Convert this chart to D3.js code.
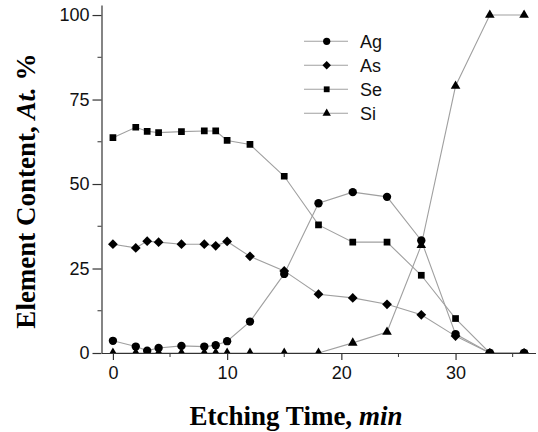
<!DOCTYPE html>
<html>
<head>
<meta charset="utf-8">
<script src="https://cdn.jsdelivr.net/npm/d3@7"></script>
<style>
  body { margin: 0; background: #fff; }
  svg { display: block; }
</style>
</head>
<body>
<svg id="chart" width="538" height="432"></svg>
<script>
// etching time, min
var times = [0, 2, 3, 4, 6, 8, 9, 10, 12, 15, 18, 21, 24, 27, 30, 33, 36];
var agValues = [3.6, 1.9, 0.7, 1.5, 2.1, 1.9, 2.3, 3.5, 9.3, 23.4, 44.3, 47.6, 46.2, 33.3, 5.6, 0, 0];
var asValues = [32.2, 31.1, 33.1, 32.8, 32.2, 32.2, 31.7, 33.0, 28.6, 24.3, 17.4, 16.3, 14.4, 11.3, 5.0, 0, 0];
var seValues = [63.7, 66.8, 65.6, 65.2, 65.5, 65.7, 65.7, 62.9, 61.7, 52.3, 37.9, 32.8, 32.8, 23.0, 10.2, 0, 0];
var siValues = [0, 0, 0, 0, 0, 0, 0, 0, 0, 0, 0, 3.0, 6.2, 31.9, 79.0, 100, 100];
var seriesNames = ["Ag", "As", "Se", "Si"];
var xTicks = [0, 10, 20, 30];
var xMinor = [5, 15, 25, 35];
var yTicks = [0, 25, 50, 75, 100];
var yMinor = [12.5, 37.5, 62.5, 87.5];

var svg = d3.select("#chart");

var x = d3.scaleLinear().domain([-1, 37]).range([101.5, 535.5]);
var y = d3.scaleLinear().domain([0, 103]).range([353, 4.9]);

// diamond = square turned 45deg
var series = [
  {name: "Ag", values: agValues, sym: d3.symbolCircle, size: 55, rot: 0},
  {name: "As", values: asValues, sym: d3.symbolSquare, size: 48, rot: 45},
  {name: "Se", values: seValues, sym: d3.symbolSquare, size: 45, rot: 0},
  {name: "Si", values: siValues, sym: d3.symbolTriangle, size: 40, rot: 0}
];

svg.append("defs").append("clipPath")
  .attr("id", "plot-clip")
  .append("rect")
  .attr("x", x(-1)).attr("y", y(103))
  .attr("width", x(37) - x(-1))
  .attr("height", y(0) - y(103));

var line = d3.line()
  .x(function(d) { return x(d[0]); })
  .y(function(d) { return y(d[1]); });

var plot = svg.append("g").attr("clip-path", "url(#plot-clip)");

series.forEach(function(s) {
  var pts = times.map(function(t, i) { return [t, s.values[i]]; });
  plot.append("path")
    .datum(pts)
    .attr("fill", "none")
    .attr("stroke", "#a0a0a0")
    .attr("stroke-width", 1.1)
    .attr("d", line);
});

series.forEach(function(s) {
  var pts = times.map(function(t, i) { return [t, s.values[i]]; });
  plot.selectAll(".m-" + s.name)
    .data(pts)
    .enter().append("path")
    .attr("class", "m-" + s.name)
    .attr("transform", function(d) {
      return "translate(" + x(d[0]) + "," + y(d[1]) + ") rotate(" + s.rot + ")";
    })
    .attr("d", d3.symbol().type(s.sym).size(s.size))
    .attr("fill", "#000");
});

// axes
var xAxis = svg.append("g")
  .attr("transform", "translate(0," + y(0) + ")")
  .call(d3.axisBottom(x).tickValues(xTicks).tickSize(7).tickPadding(6).tickSizeOuter(0));
xAxis.selectAll(".minor")
  .data(xMinor).enter().append("line")
  .attr("class", "minor")
  .attr("x1", function(d) { return x(d); }).attr("x2", function(d) { return x(d); })
  .attr("y1", 0).attr("y2", 4)
  .attr("stroke", "#333");

var yAxis = svg.append("g")
  .attr("transform", "translate(" + x(-1) + ",0)")
  .call(d3.axisLeft(y).tickValues(yTicks).tickSize(9).tickPadding(3).tickSizeOuter(0));
yAxis.selectAll(".minor")
  .data(yMinor).enter().append("line")
  .attr("class", "minor")
  .attr("y1", function(d) { return y(d); }).attr("y2", function(d) { return y(d); })
  .attr("x1", 0).attr("x2", -4)
  .attr("stroke", "#333");

svg.selectAll(".domain, .tick line").attr("stroke", "#333").attr("stroke-width", 1.2);
svg.selectAll(".tick text")
  .attr("font-family", "Liberation Sans, Arial, sans-serif")
  .attr("font-size", 18)
  .attr("fill", "#111");

// legend
var legend = svg.append("g");
series.forEach(function(s, i) {
  var ly = 41.3 + i * 24;
  legend.append("line")
    .attr("x1", 304).attr("x2", 348)
    .attr("y1", ly).attr("y2", ly)
    .attr("stroke", "#a0a0a0").attr("stroke-width", 1.1);
  legend.append("path")
    .attr("transform", "translate(326.7," + ly + ") rotate(" + s.rot + ")")
    .attr("d", d3.symbol().type(s.sym).size(s.size * 0.75))
    .attr("fill", "#000");
  legend.append("text")
    .attr("x", 360).attr("y", ly + 6.5)
    .attr("font-family", "Liberation Sans, Arial, sans-serif")
    .attr("font-size", 18)
    .attr("fill", "#111")
    .text(seriesNames[i]);
});

// axis titles
var xTitle = svg.append("text")
  .attr("x", 296).attr("y", 425)
  .attr("text-anchor", "middle")
  .attr("font-family", "Liberation Serif, Times New Roman, serif")
  .attr("font-weight", "bold")
  .attr("font-size", 27)
  .attr("fill", "#000");
xTitle.append("tspan").text("Etching Time, ");
xTitle.append("tspan").attr("font-style", "italic").text("min");

var yTitle = svg.append("text")
  .attr("transform", "translate(35,191) rotate(-90)")
  .attr("text-anchor", "middle")
  .attr("font-family", "Liberation Serif, Times New Roman, serif")
  .attr("font-weight", "bold")
  .attr("font-size", 27)
  .attr("fill", "#000");
yTitle.append("tspan").text("Element Content, ");
yTitle.append("tspan").attr("font-style", "italic").text("At.");
yTitle.append("tspan").text(" %");
</script>
</body>
</html>
